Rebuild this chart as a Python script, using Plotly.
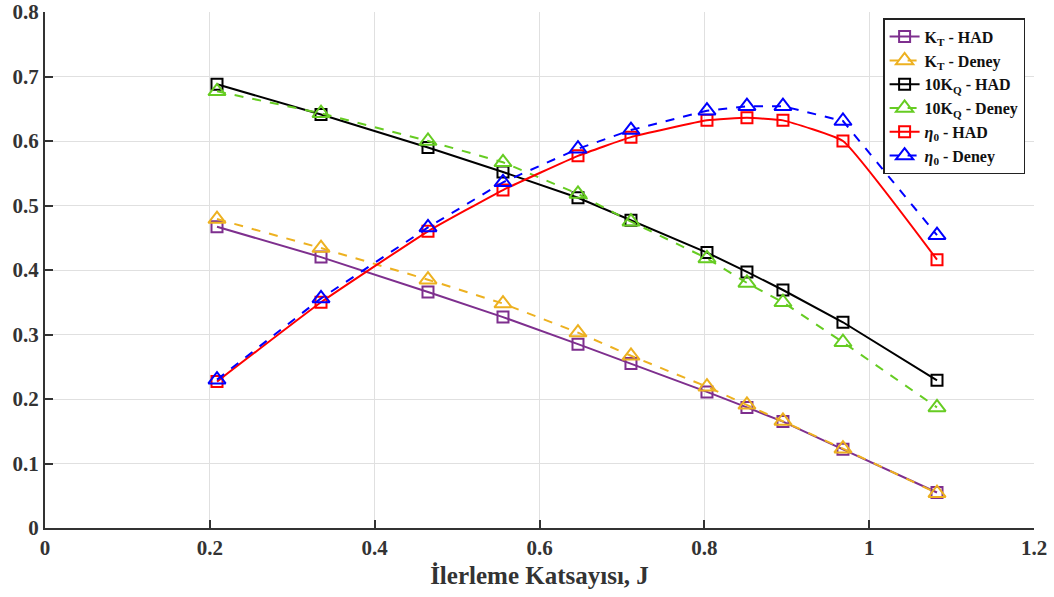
import plotly.graph_objects as go

J = [0.2087, 0.3349, 0.4647, 0.5557, 0.6467, 0.7110, 0.8032, 0.8517, 0.8954, 0.9682, 1.0823]
kt_had = [0.467, 0.420, 0.366, 0.327, 0.285, 0.255, 0.211, 0.187, 0.165, 0.122, 0.055]
kt_deney = [0.479, 0.434, 0.385, 0.348, 0.303, 0.267, 0.219, 0.191, 0.166, 0.123, 0.054]
kq_had = [0.688, 0.641, 0.590, 0.552, 0.512, 0.477, 0.427, 0.397, 0.369, 0.319, 0.229]
kq_deney = [0.677, 0.643, 0.600, 0.567, 0.518, 0.475, 0.418, 0.380, 0.350, 0.288, 0.187]
eta_had = [0.227, 0.350, 0.460, 0.524, 0.577, 0.606, 0.632, 0.636, 0.632, 0.600, 0.416]
eta_deney = [0.230, 0.356, 0.466, 0.536, 0.588, 0.617, 0.647, 0.654, 0.654, 0.631, 0.454]

series = [
    ("K<sub>T</sub> - HAD", kt_had, "#7E2F8E", "solid", "square-open", 11, "linear"),
    ("K<sub>T</sub> - Deney", kt_deney, "#EDB120", "dash", "triangle-up-open", 15, "linear"),
    ("10K<sub>Q</sub> - HAD", kq_had, "#000000", "solid", "square-open", 11, "linear"),
    ("10K<sub>Q</sub> - Deney", kq_deney, "#66CC22", "dash", "triangle-up-open", 15, "linear"),
    ("<i>η</i><sub>0</sub> - HAD", eta_had, "#FF0000", "solid", "square-open", 11, "spline"),
    ("<i>η</i><sub>0</sub> - Deney", eta_deney, "#0000FF", "dash", "triangle-up-open", 15, "linear"),
]

fig = go.Figure()
for name, ys, color, dash, sym, size, shape in series:
    fig.add_trace(go.Scatter(
        x=J, y=ys, name=name, mode="lines+markers",
        line=dict(color=color, width=2, dash=dash, shape=shape, smoothing=0.35),
        marker=dict(symbol=sym, size=size, color=color, line=dict(width=2, color=color)),
    ))

font_family = "Liberation Serif"
fig.update_layout(
    width=1054, height=597,
    margin=dict(l=45, r=20, t=12, b=69),
    plot_bgcolor="white", paper_bgcolor="white",
    font=dict(family=font_family, size=17, color="#333333"),
    showlegend=True,
    legend=dict(
        x=0.991, y=0.988, xanchor="right", yanchor="top",
        bordercolor="#222222", borderwidth=1.5, bgcolor="white",
        font=dict(family=font_family, size=16, color="#111111", weight="bold"),
        tracegroupgap=0, itemwidth=30,
    ),
)
fig.update_xaxes(
    range=[0, 1.2], tickvals=[0, 0.2, 0.4, 0.6, 0.8, 1.0, 1.2],
    ticktext=["0", "0.2", "0.4", "0.6", "0.8", "1", "1.2"],
    showgrid=True, gridcolor="#E0E0E0", gridwidth=1,
    showline=True, linecolor="#333333", linewidth=2,
    ticks="inside", ticklen=8, tickwidth=2, tickcolor="#333333",
    tickfont=dict(family=font_family, size=21, color="#333333", weight="bold"),
    title=dict(text="İlerleme Katsayısı, J", standoff=7,
               font=dict(family=font_family, size=25, color="#333333", weight="bold")),
    zeroline=False, automargin=False,
)
fig.update_yaxes(
    range=[0, 0.8], tickvals=[0, 0.1, 0.2, 0.3, 0.4, 0.5, 0.6, 0.7, 0.8],
    ticktext=["0", "0.1", "0.2", "0.3", "0.4", "0.5", "0.6", "0.7", "0.8"],
    showgrid=True, gridcolor="#E0E0E0", gridwidth=1,
    showline=True, linecolor="#333333", linewidth=2,
    ticks="inside", ticklen=8, tickwidth=2, tickcolor="#333333",
    tickfont=dict(family=font_family, size=21, color="#333333", weight="bold"),
    zeroline=False, automargin=False,
)
fig.write_html(
    "out.html",
    config={"displayModeBar": False},
    post_script="document.body.style.margin='0';document.body.style.padding='0';document.body.style.overflow='hidden';",
)
